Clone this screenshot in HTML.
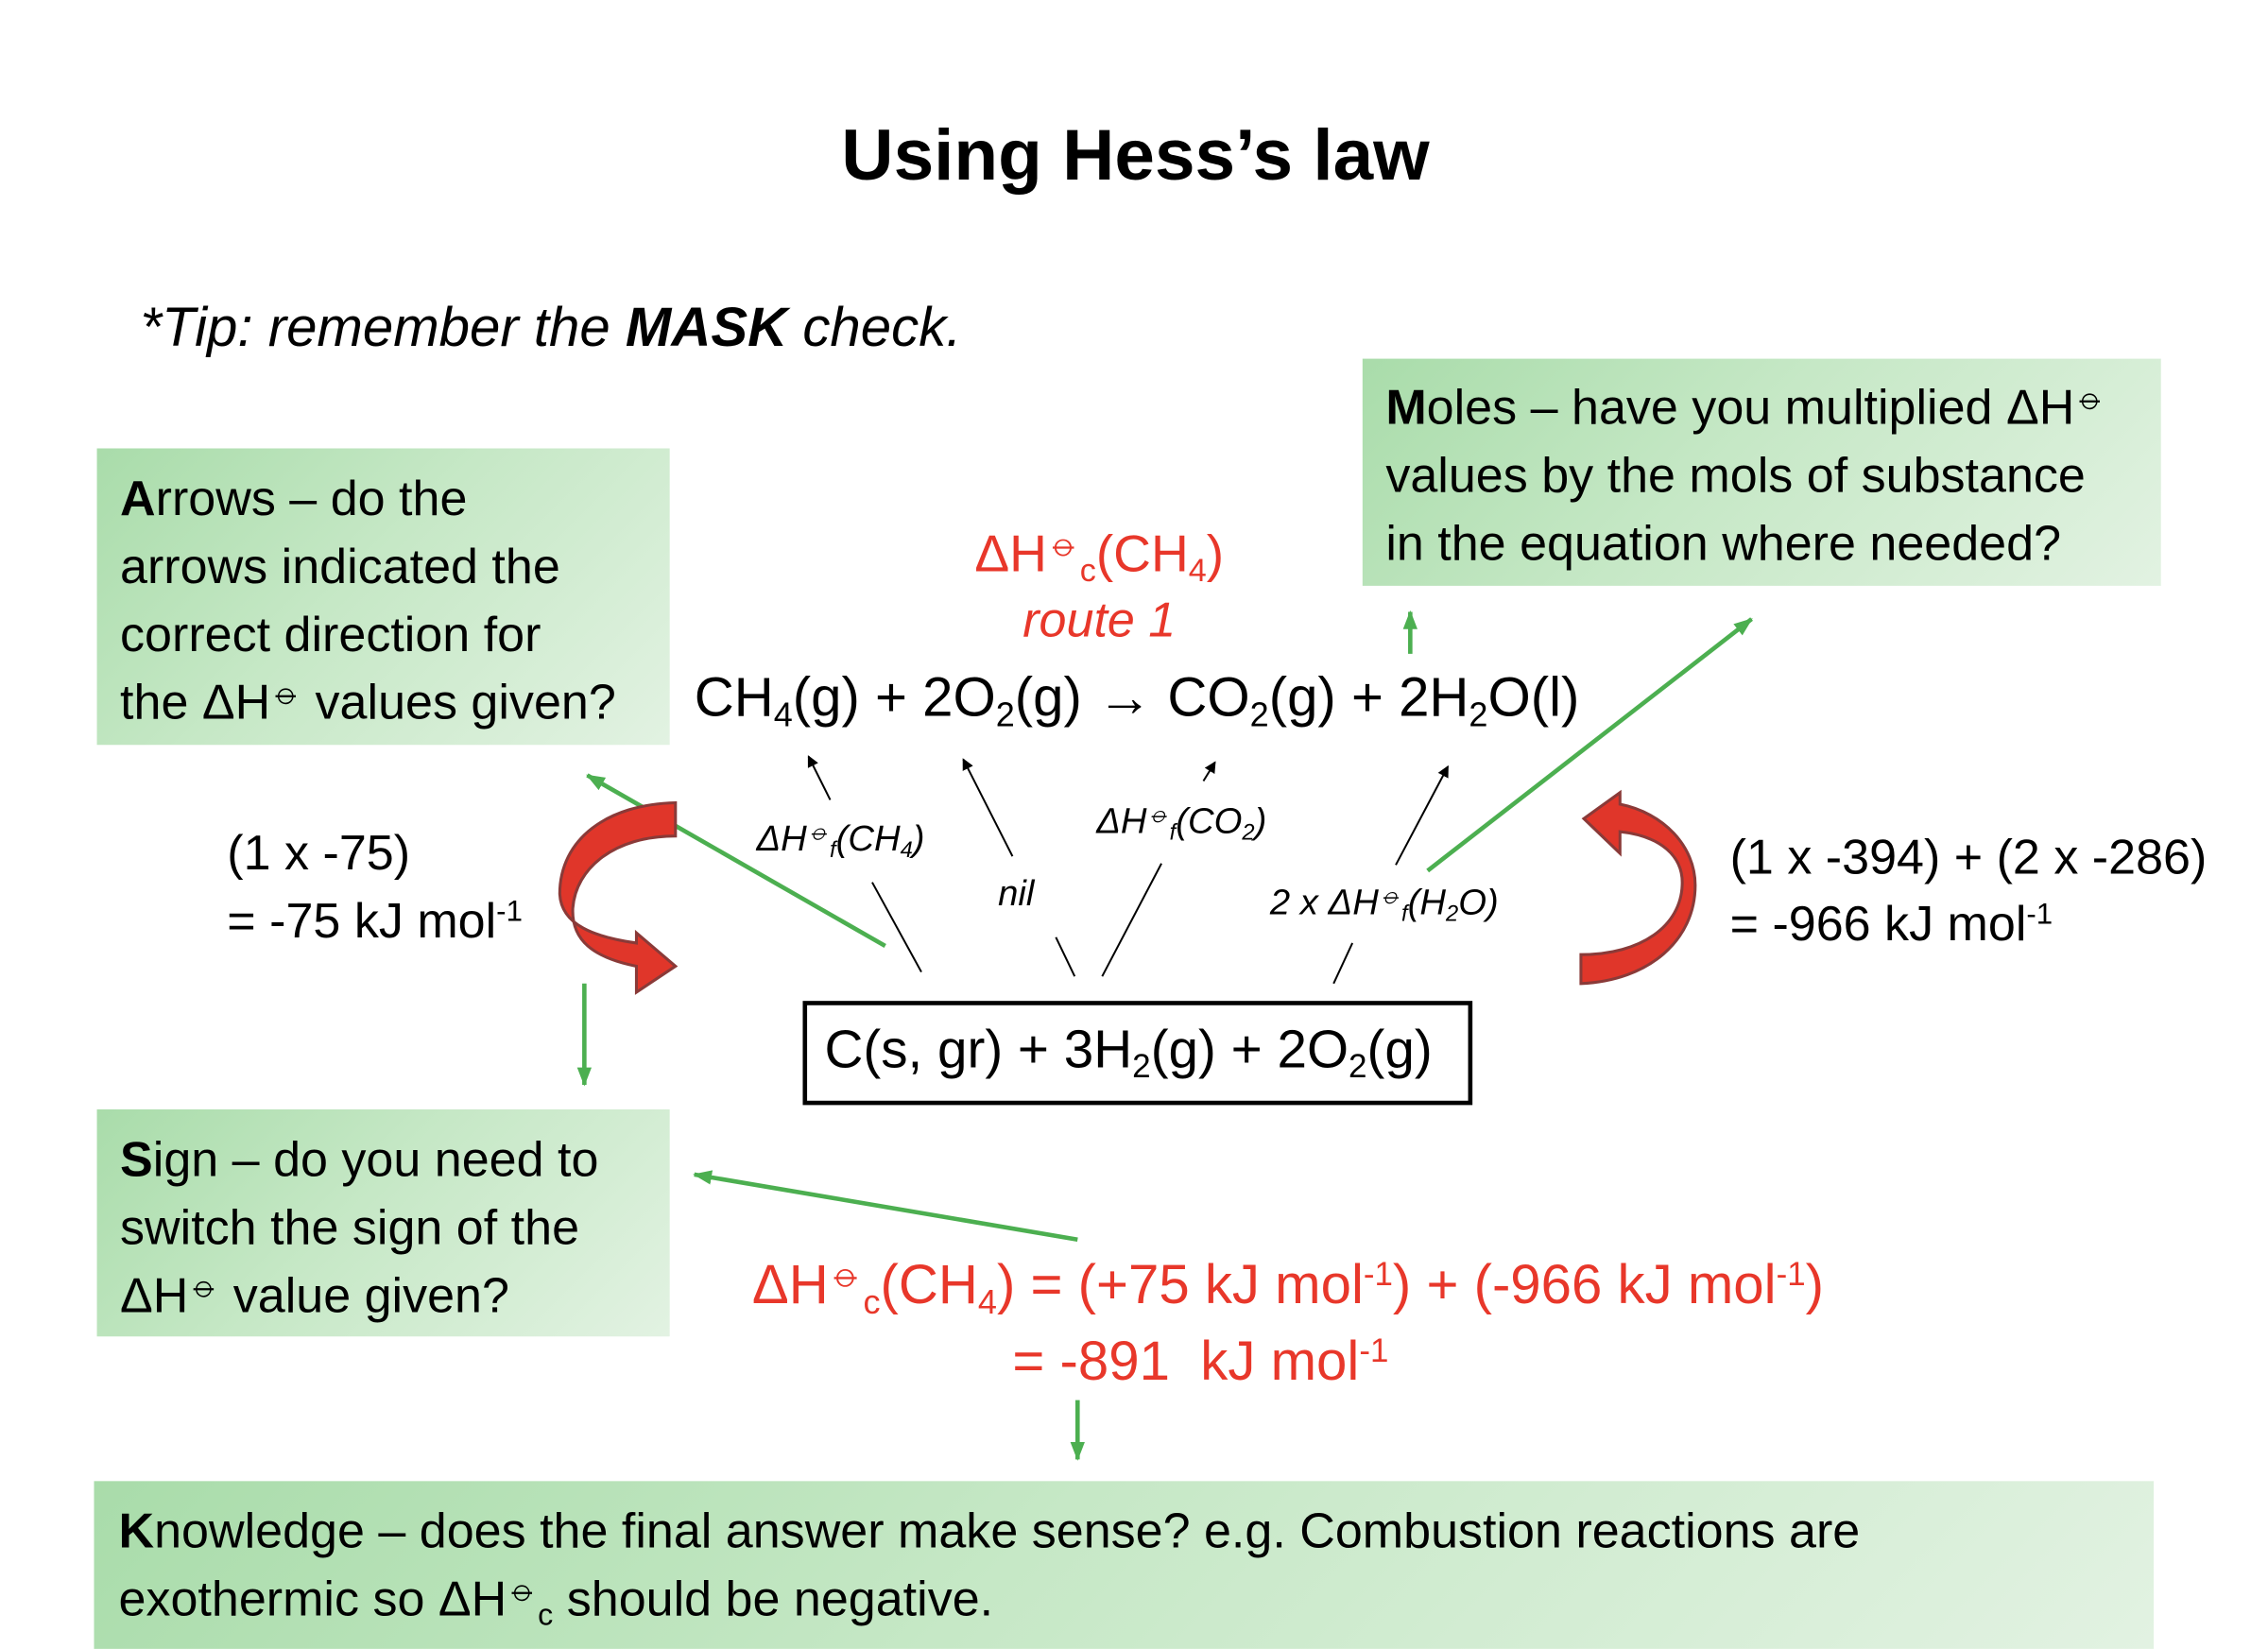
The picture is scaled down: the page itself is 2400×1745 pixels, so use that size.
<!DOCTYPE html>
<html><head><meta charset="utf-8"><style>
html,body{margin:0;padding:0;background:#fff;}
body{width:2400px;height:1744px;overflow:hidden;position:relative;}
#c{position:absolute;left:0;top:0;width:1568px;height:1140px;transform:scale(1.5306,1.5306);transform-origin:0 0;font-family:"Liberation Sans","DejaVu Sans",sans-serif;color:#000;}
.t{position:absolute;white-space:nowrap;line-height:1;}
.box{position:absolute;background:linear-gradient(135deg,#a9dcaa 0%,#c6e8c6 45%,#e2f2e2 100%);}
.bt{font-size:34px;}
sub{font-size:0.62em;vertical-align:-0.3em;line-height:0;}
sup{font-size:0.6em;vertical-align:0.55em;line-height:0;}
sup.p{font-size:0.75em;vertical-align:0.4em;}
.red{color:#e8372a;}
.sm{font-size:25px;font-style:italic;}
</style></head><body><div id="c">
<div class="t" style="left:0;width:1570px;text-align:center;top:82px;font-size:50px;font-weight:bold;">Using Hess’s law</div>
<div class="t" style="left:97px;top:208px;font-size:38px;font-style:italic;">*Tip: remember the <b>MASK</b> check.</div>

<div class="box" style="left:67px;top:310px;width:396px;height:205px;"></div>
<div class="t bt" style="left:83px;top:322px;line-height:47px;"><b>A</b>rrows – do the<br>arrows indicated the<br>correct direction for<br>the ΔH<sup class="p">⦵</sup> values given?</div>

<div class="box" style="left:942px;top:248px;width:552px;height:157px;"></div>
<div class="t bt" style="left:958px;top:259px;line-height:47px;"><b>M</b>oles – have you multiplied ΔH<sup class="p">⦵</sup><br>values by the mols of substance<br>in the equation where needed?</div>

<div class="box" style="left:67px;top:767px;width:396px;height:157px;"></div>
<div class="t bt" style="left:83px;top:779px;line-height:47px;"><b>S</b>ign – do you need to<br>switch the sign of the<br>ΔH<sup class="p">⦵</sup> value given?</div>

<div class="box" style="left:65px;top:1024px;width:1424px;height:116px;"></div>
<div class="t bt" style="left:82px;top:1036px;line-height:47px;"><b>K</b>nowledge – does the final answer make sense? e.g. Combustion reactions are<br>exothermic so ΔH<sup class="p">⦵</sup><sub>c</sub> should be negative.</div>

<div class="t red" style="left:640px;width:240px;text-align:center;top:365px;font-size:36px;">ΔH<sup class="p">⦵</sup><sub>c</sub>(CH<sub>4</sub>)</div>
<div class="t red" style="left:640px;width:240px;text-align:center;top:412px;font-size:34px;font-style:italic;">route 1</div>

<div class="t" style="left:480px;top:464px;font-size:38px;">CH<sub>4</sub>(g) + 2O<sub>2</sub>(g) → CO<sub>2</sub>(g) + 2H<sub>2</sub>O(l)</div>

<div style="position:absolute;left:555px;top:692px;width:457px;height:66px;border:3px solid #000;"></div>
<div class="t" style="left:570px;top:707px;font-size:37px;">C(s, gr) + 3H<sub>2</sub>(g) + 2O<sub>2</sub>(g)</div>

<div class="t" style="left:157px;top:567px;font-size:34px;line-height:47px;">(1 x -75)<br>= -75 kJ mol<sup>-1</sup></div>
<div class="t" style="left:1196px;top:570px;font-size:34px;line-height:46px;">(1 x -394) + (2 x -286)<br>= -966 kJ mol<sup>-1</sup></div>

<div class="t red" style="left:520px;top:870px;font-size:38px;">ΔH<sup class="p">⦵</sup><sub>c</sub>(CH<sub>4</sub>) = (+75 kJ mol<sup>-1</sup>) + (-966 kJ mol<sup>-1</sup>)</div>
<div class="t red" style="left:700px;top:923px;font-size:38px;">= -891 &nbsp;kJ mol<sup>-1</sup></div>

<div class="t sm" style="left:523px;top:568px;">ΔH<sup class="p">⦵</sup><sub>f</sub>(CH<sub>4</sub>)</div>
<div class="t sm" style="left:690px;top:606px;">nil</div>
<div class="t sm" style="left:758px;top:556px;">ΔH<sup class="p">⦵</sup><sub>f</sub>(CO<sub>2</sub>)</div>
<div class="t sm" style="left:878px;top:612px;">2 x ΔH<sup class="p">⦵</sup><sub>f</sub>(H<sub>2</sub>O)</div>

<svg style="position:absolute;left:0;top:0" width="1568" height="1140" viewBox="0 0 1568 1140">
<defs>
<marker id="ab" markerWidth="8" markerHeight="8" refX="7" refY="4" orient="auto" markerUnits="userSpaceOnUse"><path d="M0,0 L8,4 L0,8 z" fill="#000" transform="scale(1.6) translate(-3,-1.5)"/></marker>
<marker id="ag" markerWidth="14" markerHeight="14" refX="12" refY="7" orient="auto" markerUnits="userSpaceOnUse"><path d="M0,2 L13,7 L0,12 z" fill="#4caf50"/></marker>
</defs>
<g stroke="#000" stroke-width="1.3" fill="none">
<line x1="574" y1="553" x2="559" y2="523" marker-end="url(#ab)"/>
<line x1="603" y1="610" x2="637" y2="672"/>
<line x1="700" y1="592" x2="666" y2="525" marker-end="url(#ab)"/>
<line x1="730" y1="648" x2="743" y2="675"/>
<line x1="762" y1="675" x2="803" y2="597"/>
<line x1="832" y1="540" x2="840" y2="527" marker-end="url(#ab)"/>
<line x1="965" y1="598" x2="1001" y2="530" marker-end="url(#ab)"/>
<line x1="922" y1="680" x2="935" y2="652"/>
</g>
<g stroke="#4caf50" stroke-width="3" fill="none">
<line x1="612" y1="654" x2="406" y2="536" marker-end="url(#ag)"/>
<line x1="404" y1="680" x2="404" y2="750" marker-end="url(#ag)"/>
<line x1="975" y1="452" x2="975" y2="423" marker-end="url(#ag)"/>
<line x1="987" y1="602" x2="1211" y2="428" marker-end="url(#ag)"/>
<line x1="745" y1="857" x2="480" y2="812" marker-end="url(#ag)"/>
<line x1="745" y1="968" x2="745" y2="1009" marker-end="url(#ag)"/>
</g>
<path d="M467,555 L467,578 C425,578 398,600 396,628 C395,650 410,662 440,668 L440,686 L467,668 L440,645 L440,652 C412,648 388,640 387,618 C387,580 420,556 467,555 Z" fill="#e0362a" stroke="#8a3a38" stroke-width="2"/>
<path d="M1093,680 L1093,660 C1135,660 1162,640 1163,612 C1164,592 1148,578 1120,575 L1120,590 L1095,566 L1120,548 L1120,556 C1150,562 1172,585 1172,612 C1172,650 1140,678 1093,680 Z" fill="#e0362a" stroke="#8a3a38" stroke-width="2"/>
</svg>
</div></body></html>
